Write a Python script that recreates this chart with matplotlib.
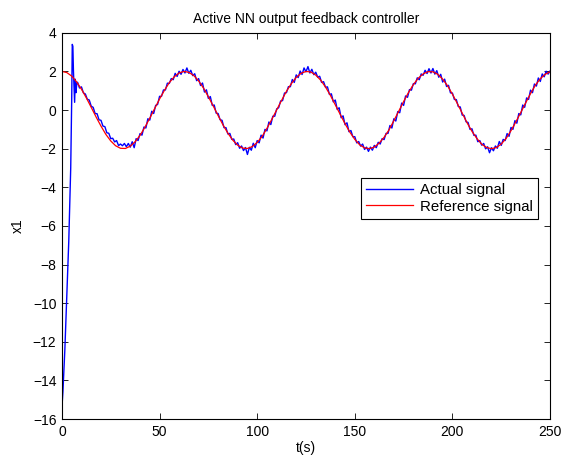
import numpy as np
import matplotlib.pyplot as plt

plt.rcParams['font.family'] = ['Liberation Sans', 'DejaVu Sans']

# reference trajectory, sampled every 2.5 s from 0 to 250 s
ref_step = 2.5
x1_ref = [
    2.00, 1.94, 1.76, 1.46, 1.08, 0.63, 0.14, -0.36, -0.83, -1.26,
    -1.60, -1.85, -1.98, -1.99, -1.87, -1.64, -1.31, -0.89, -0.42, 0.08,
    0.57, 1.02, 1.42, 1.72, 1.92, 2.00, 1.95, 1.79, 1.51, 1.14,
    0.69, 0.21, -0.29, -0.77, -1.20, -1.56, -1.82, -1.97, -1.99, -1.89,
    -1.68, -1.37, -0.95, -0.48, 0.01, 0.50, 0.97, 1.37, 1.69, 1.90,
    2.00, 1.97, 1.81, 1.55, 1.19, 0.76, 0.27, -0.22, -0.71, -1.15,
    -1.52, -1.80, -1.96, -2.00, -1.92, -1.71, -1.41, -1.03, -0.55, -0.06,
    0.44, 0.91, 1.32, 1.65, 1.87, 1.99, 1.98, 1.85, 1.60, 1.26,
    0.82, 0.34, -0.16, -0.66, -1.10, -1.47, -1.77, -1.94, -2.00, -1.94,
    -1.76, -1.47, -1.07, -0.61, -0.13, 0.37, 0.85, 1.29, 1.62, 1.85,
    1.98,
]

# start-up transient of the measured output
t_start = [0.0, 0.5, 1.0, 1.5, 2.0, 2.5, 3.0, 3.5, 4.0, 4.5,
           5.0, 5.3, 5.6, 5.9, 6.2, 6.5, 6.8, 7.2, 7.6]
x1_start = [-15.4, -14.6, -13.5, -12.4, -11.0, -9.6, -8.3, -6.8, -5.0, -3.0,
            0.5, 3.4, 3.3, 2.0, 1.2, 0.4, 1.6, 0.9, 1.4]

# measured output after the transient, one sample per second (8 s .. 250 s)
x1_track = [
    1.44, 1.14, 1.20, 0.89, 0.83, 0.56, 0.52, 0.20, 0.14, -0.18,
    -0.19, -0.51, -0.53, -0.83, -0.86, -1.18, -1.20, -1.48, -1.46, -1.65,
    -1.58, -1.84, -1.76, -1.85, -1.73, -1.90, -1.73, -1.92, -1.64, -1.95,
    -1.48, -1.58, -1.22, -1.30, -0.88, -0.93, -0.45, -0.52, -0.06, -0.18,
    0.24, 0.29, 0.71, 0.71, 1.04, 1.04, 1.39, 1.38, 1.63, 1.57,
    1.90, 1.74, 2.01, 1.85, 2.10, 1.92, 2.18, 1.90, 2.06, 1.78,
    1.88, 1.52, 1.63, 1.27, 1.40, 0.93, 1.05, 0.60, 0.70, 0.24,
    0.26, -0.16, -0.18, -0.50, -0.53, -0.91, -0.91, -1.24, -1.21, -1.52,
    -1.50, -1.79, -1.69, -1.98, -1.86, -2.10, -1.94, -2.30, -1.93, -2.08,
    -1.72, -1.95, -1.58, -1.70, -1.30, -1.45, -1.00, -1.08, -0.62, -0.75,
    -0.32, -0.32, 0.06, 0.12, 0.47, 0.49, 0.88, 0.90, 1.21, 1.21,
    1.58, 1.43, 1.82, 1.68, 2.02, 1.84, 2.18, 1.98, 2.25, 1.92,
    2.11, 1.83, 1.96, 1.70, 1.75, 1.43, 1.47, 1.18, 1.20, 0.81,
    0.84, 0.42, 0.52, 0.03, 0.12, -0.40, -0.30, -0.76, -0.66, -1.12,
    -1.06, -1.38, -1.38, -1.70, -1.63, -1.87, -1.76, -2.04, -1.92, -2.14,
    -1.92, -2.08, -1.83, -1.95, -1.67, -1.76, -1.48, -1.53, -1.21, -1.21,
    -0.80, -0.93, -0.45, -0.57, -0.08, -0.14, 0.36, 0.24, 0.73, 0.66,
    1.06, 1.03, 1.37, 1.36, 1.67, 1.57, 1.87, 1.80, 2.06, 1.89,
    2.14, 1.92, 2.15, 1.86, 2.04, 1.70, 1.85, 1.45, 1.60, 1.22,
    1.28, 0.89, 0.88, 0.55, 0.54, 0.18, 0.16, -0.26, -0.28, -0.61,
    -0.64, -1.00, -0.97, -1.31, -1.30, -1.64, -1.58, -1.82, -1.73, -2.01,
    -1.90, -2.21, -1.95, -2.11, -1.86, -1.98, -1.63, -1.83, -1.52, -1.58,
    -1.22, -1.36, -0.90, -1.00, -0.55, -0.68, -0.18, -0.25, 0.26, 0.14,
    0.63, 0.55, 1.03, 0.90, 1.35, 1.24, 1.66, 1.48, 1.87, 1.72,
    2.01, 1.86, 2.02,
]

t_ref = np.arange(len(x1_ref)) * ref_step
t_act = np.concatenate([t_start, 8 + np.arange(len(x1_track))])
x1_act = np.concatenate([x1_start, x1_track])

fig = plt.figure(figsize=(5.63, 4.62), dpi=100)
ax = fig.add_axes([0.110, 0.093, 0.867, 0.836])

ax.plot(t_act, x1_act, color='#0000ff', lw=1.0, label='Actual signal')
ax.plot(t_ref, x1_ref, color='#ff0000', lw=0.9, label='Reference signal')

ax.set_xlim(0, 250)
ax.set_ylim(-16, 4)
ax.set_xticks(np.arange(0, 251, 50))
ax.set_yticks(np.arange(-16, 5, 2))
ax.tick_params(direction='in', top=True, right=True, length=4,
               width=0.6, labelsize=10, pad=4)
for s in ax.spines.values():
    s.set_linewidth(0.8)

ax.set_title('Active NN output feedback controller', fontsize=10, pad=7)
ax.set_xlabel('t(s)', fontsize=10, labelpad=2)
ax.set_ylabel('x1', fontsize=10, labelpad=6)

leg = ax.legend(loc='upper right', bbox_to_anchor=(0.975, 0.624),
                fancybox=False, framealpha=1, edgecolor='black',
                fontsize=10.8, handlelength=3.1, handletextpad=0.45,
                borderpad=0.35, labelspacing=0.15, borderaxespad=0)
leg.get_frame().set_linewidth(0.8)

fig.savefig('out.png', dpi=100)
